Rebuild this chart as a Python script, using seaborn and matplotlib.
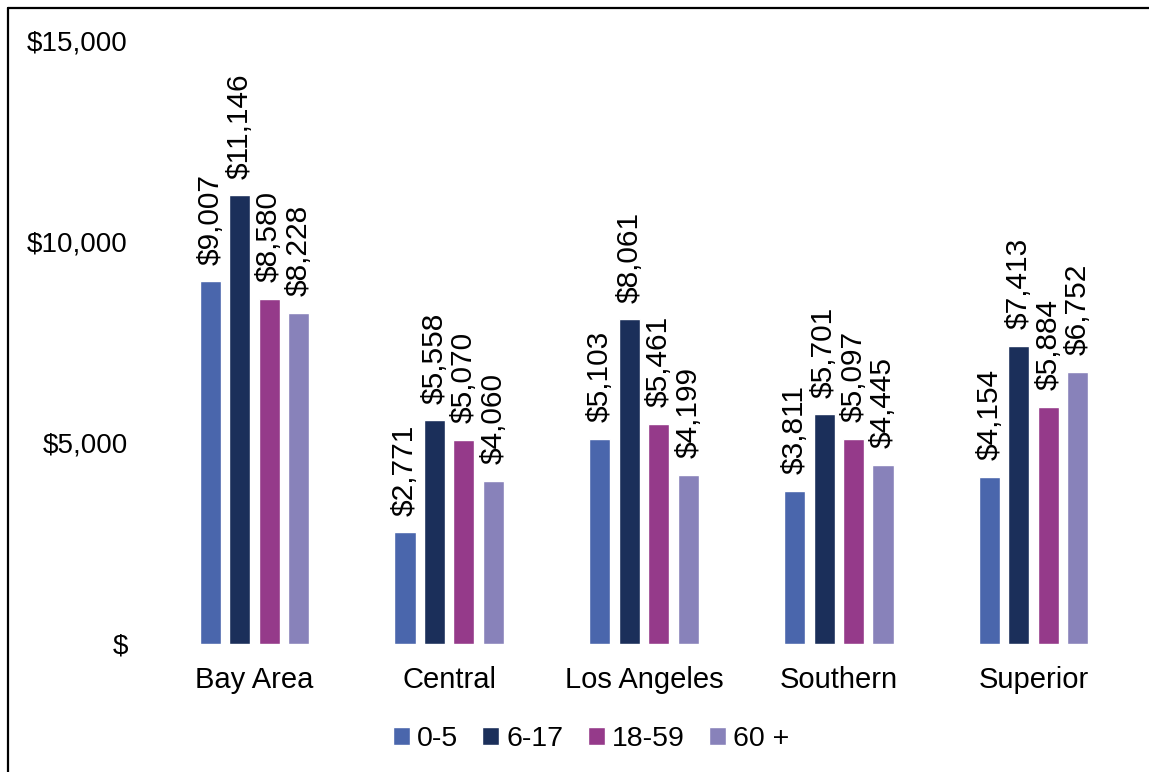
import matplotlib
matplotlib.use("Agg")
import matplotlib.pyplot as plt
from matplotlib.lines import Line2D
from matplotlib.ticker import FuncFormatter
import pandas as pd
import seaborn as sns

regions = ["Bay Area", "Central", "Los Angeles", "Southern", "Superior"]
age_groups = ["0-5", "6-17", "18-59", "60 +"]
age_0_5 = [9007, 2771, 5103, 3811, 4154]
age_6_17 = [11146, 5558, 8061, 5701, 7413]
age_18_59 = [8580, 5070, 5461, 5097, 5884]
age_60_plus = [8228, 4060, 4199, 4445, 6752]
y_ticks = [0, 5000, 10000, 15000]

colors = ["#4A66AC", "#1B2F5A", "#953A8A", "#8882BA"]

series = [age_0_5, age_6_17, age_18_59, age_60_plus]
df = pd.DataFrame(
    [(r, g, v) for g, vals in zip(age_groups, series) for r, v in zip(regions, vals)],
    columns=["region", "age", "value"],
)

sns.set_theme(style="white")
plt.rcParams["font.family"] = ["Liberation Sans", "DejaVu Sans"]
plt.rcParams["text.color"] = "black"

fig = plt.figure(figsize=(11.49, 7.72), dpi=100)
ax = fig.add_axes([157 / 1149, 128 / 772, (1131 - 157) / 1149, (644 - 40) / 772])

sns.barplot(
    data=df, x="region", y="value", hue="age", order=regions, hue_order=age_groups,
    palette=colors, width=0.605, gap=0.285, saturation=1, ax=ax, legend=True,
)

for container in ax.containers:
    ax.bar_label(
        container,
        labels=[f"${v:,.0f}" for v in container.datavalues],
        rotation=90, padding=12, fontsize=21.5, color="black",
    )

ax.set_ylim(0, 15000)
ax.set_xlim(-0.5, len(regions) - 0.5)
ax.set_yticks(y_ticks)
ax.yaxis.set_major_formatter(FuncFormatter(lambda v, _: "$" if v == 0 else f"${v:,.0f}"))
ax.tick_params(axis="y", length=0, pad=21, labelsize=20, labelcolor="black")
ax.tick_params(axis="x", length=0, pad=16, labelsize=21, labelcolor="black")
ax.set_xlabel("")
ax.set_ylabel("")
for spine in ax.spines.values():
    spine.set_visible(False)

handles, labels = ax.get_legend_handles_labels()
ax.legend_.remove()
leg = fig.legend(
    handles, labels, loc="center", bbox_to_anchor=(591 / 1149, 33 / 772),
    ncol=4, frameon=False, fontsize=20.5, handlelength=0.6, handleheight=0.6,
    handletextpad=0.25, columnspacing=0.85,
)
for t in leg.get_texts():
    t.set_color("black")

# outer frame (top and left edges)
fig.add_artist(Line2D([8 / 1149, 1.0], [1 - 8 / 772, 1 - 8 / 772], transform=fig.transFigure,
                      color="black", lw=1.6))
fig.add_artist(Line2D([8 / 1149, 8 / 1149], [0.0, 1 - 8 / 772], transform=fig.transFigure,
                      color="black", lw=1.6))

fig.savefig("out.png", dpi=100)
